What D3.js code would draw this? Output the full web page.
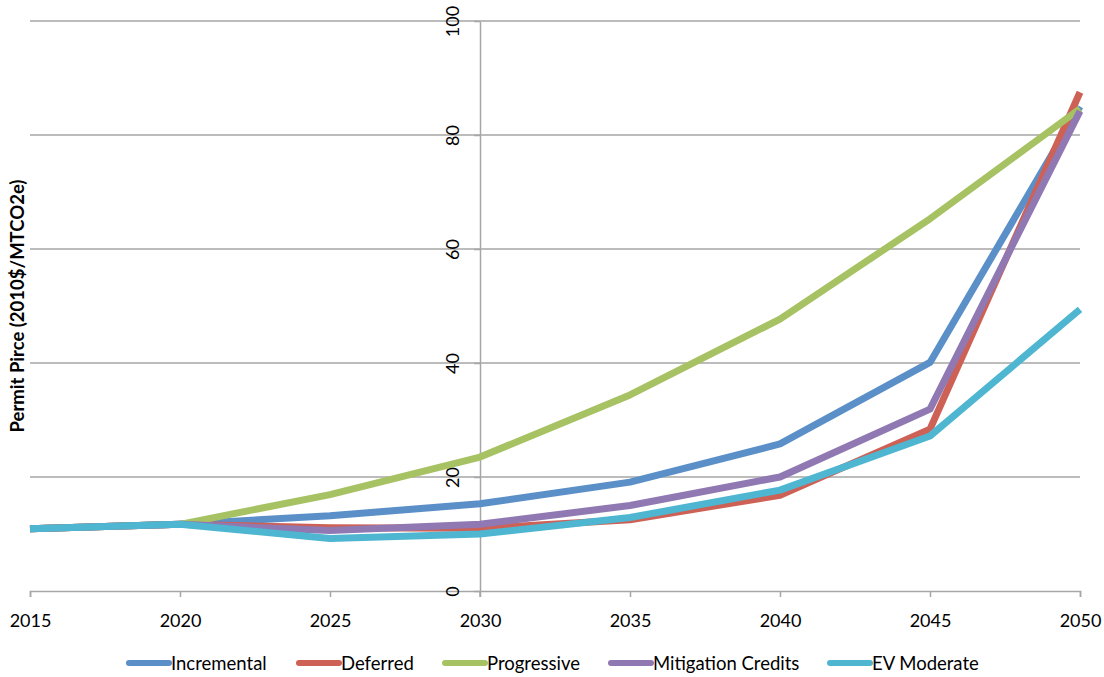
<!DOCTYPE html>
<html>
<head>
<meta charset="utf-8">
<script src="https://cdn.jsdelivr.net/npm/d3@7"></script>
<style>
  html, body { margin: 0; padding: 0; background: #fff; }
  svg { display: block; }
  text { font-family: Lato, "Open Sans", "Liberation Sans", sans-serif; fill: #000; }
</style>
</head>
<body>
<svg id="chart" width="1104" height="677"></svg>
<script>
// Permit price projections by scenario (2010$/MTCO2e)
const years = [2015, 2020, 2025, 2030, 2035, 2040, 2045, 2050];
const incremental = [10.9, 11.7, 13.2, 15.3, 19.1, 25.8, 40.1, 85.0];
const deferred    = [10.9, 11.7, 11.1, 11.0, 12.5, 16.8, 28.4, 87.5];
const progressive = [10.9, 11.7, 16.9, 23.5, 34.4, 47.7, 65.3, 84.6];
const mitigation  = [10.9, 11.7, 10.6, 11.7, 15.0, 20.0, 31.9, 84.2];
const evModerate  = [10.9, 11.7, 9.2, 10.0, 12.9, 17.7, 27.2, 49.4];

const seriesNames = ["Incremental", "Deferred", "Progressive", "Mitigation Credits", "EV Moderate"];
const seriesValues = [incremental, deferred, progressive, mitigation, evModerate];
const seriesColors = ["#5A8FC8", "#CE6156", "#A6C262", "#9079B3", "#4EB6D0"];
const yTicks = [0, 20, 40, 60, 80, 100];

const svg = d3.select("#chart");
const x = d3.scaleLinear().domain([2015, 2050]).range([30, 1080]);
const y = d3.scaleLinear().domain([0, 100]).range([591, 21]);
const gridColor = "#a6a6a6";

// horizontal gridlines
svg.append("g")
  .selectAll("line")
  .data(yTicks.filter(d => d > 0))
  .join("line")
  .attr("x1", x(2015)).attr("x2", x(2050))
  .attr("y1", d => y(d)).attr("y2", d => y(d))
  .attr("stroke", gridColor).attr("stroke-width", 1.5);

// x axis along the zero line
const xAxis = svg.append("g")
  .attr("transform", `translate(0,${y(0)})`)
  .call(d3.axisBottom(x).tickValues(years).tickFormat(d3.format("d")).tickSize(6).tickPadding(17));
xAxis.select(".domain").attr("stroke", gridColor).attr("stroke-width", 1.5);
xAxis.selectAll(".tick line").attr("stroke", gridColor).attr("stroke-width", 1.5);
xAxis.selectAll(".tick text").style("font-size", "18px").attr("fill", "#000");

// y axis crossing at 2030, labels rotated
const yAxis = svg.append("g")
  .attr("transform", `translate(${x(2030)},0)`)
  .call(d3.axisLeft(y).tickValues(yTicks).tickSize(6).tickSizeOuter(0).tickFormat(d3.format("d")));
yAxis.select(".domain").attr("stroke", gridColor).attr("stroke-width", 1.5);
yAxis.selectAll(".tick line").attr("stroke", gridColor).attr("stroke-width", 1.5);
yAxis.selectAll(".tick text")
  .style("font-size", "18px")
  .attr("fill", "#000")
  .attr("x", null).attr("dy", null)
  .attr("text-anchor", "middle")
  .attr("transform", "translate(-27,0) rotate(-90) translate(0,6)");
// extend y axis slightly below the x axis
svg.append("line")
  .attr("x1", x(2030)).attr("x2", x(2030))
  .attr("y1", y(0)).attr("y2", y(0) + 6)
  .attr("stroke", gridColor).attr("stroke-width", 1.5);

// y axis title
svg.append("text")
  .attr("transform", `translate(24,${(y(0) + y(100)) / 2}) rotate(-90)`)
  .attr("text-anchor", "middle")
  .style("font-size", "18.5px")
  .style("font-weight", "bold")
  .text("Permit Pirce (2010$/MTCO2e)");

// series lines
const line = d3.line().x((d, i) => x(years[i])).y(d => y(d));
svg.append("g")
  .selectAll("path")
  .data(seriesValues)
  .join("path")
  .attr("d", line)
  .attr("fill", "none")
  .attr("stroke", (d, i) => seriesColors[i])
  .attr("stroke-width", 7)
  .attr("stroke-linejoin", "round");

// legend
const legendX = [127, 297, 443, 609, 828];
const legend = svg.append("g")
  .selectAll("g")
  .data(seriesNames)
  .join("g")
  .attr("transform", (d, i) => `translate(${legendX[i]},663)`);
legend.append("line")
  .attr("x1", 2).attr("x2", 42).attr("y1", 0).attr("y2", 0)
  .attr("stroke", (d, i) => seriesColors[i])
  .attr("stroke-width", 6).attr("stroke-linecap", "round");
legend.append("text")
  .attr("x", 44).attr("y", 6.5)
  .style("font-size", "18.5px")
  .text(d => d);
</script>
</body>
</html>
